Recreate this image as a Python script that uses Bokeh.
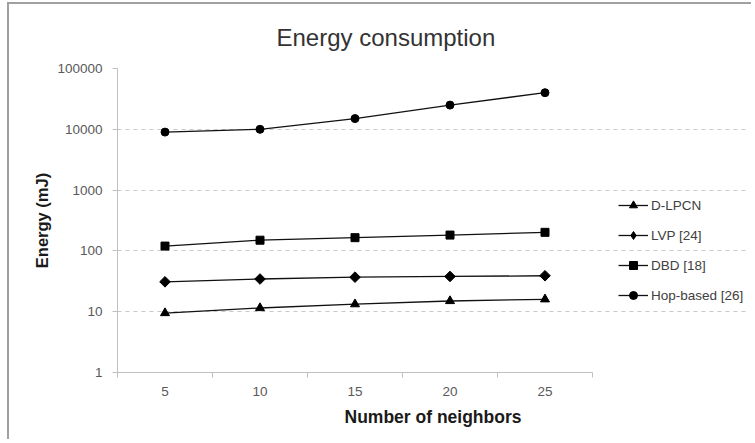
import math
from bokeh.plotting import figure
from bokeh.models import FixedTicker, Legend, LegendItem, Title, Range1d
from bokeh.embed import file_html
from bokeh.resources import INLINE

neighbors = [5, 10, 15, 20, 25]
dlpcn = [9.5, 11.5, 13.3, 15, 16]
lvp = [31, 34.5, 37, 38, 39]
dbd = [120, 150, 165, 182, 202]
hop = [9000, 10000, 15000, 25000, 40000]

series_names = ["D-LPCN", "LVP [24]", "DBD [18]", "Hop-based [26]"]
y_ticks = [1, 10, 100, 1000, 10000, 100000]
x_bounds = [2.5, 7.5, 12.5, 17.5, 22.5, 27.5]

W, H = 744, 437
MBL, MBR = 108, 5
frame_w = W - MBL - MBR
px_per_unit = 95 / 5.0
x_end = 2.5 + frame_w / px_per_unit

p = figure(width=W, height=H, y_axis_type="log", output_backend="svg",
           toolbar_location=None, x_range=Range1d(2.5, x_end),
           y_range=Range1d(1, 100000),
           min_border_left=MBL, min_border_right=MBR, min_border_top=64,
           min_border_bottom=69)
p.outline_line_color = None
p.background_fill_color = "white"
p.border_fill_color = "white"

font = "Liberation Sans"

t = Title(text="Energy consumption", align="left", offset=159,
          vertical_align="bottom",
          text_font=font, text_font_size="24px", text_font_style="normal",
          text_color="#333333", standoff=35)
p.title = t

lw = 1.3
col = "#111111"
renderers = []
for ys, marker, size, ang, lmarker, lsize in [
        (dlpcn, "triangle", 9, 0, "triangle", 7),
        (lvp, "square", 7.5, math.pi / 4, "diamond", 9),
        (dbd, "square", 8, 0, "square", 6.5),
        (hop, "circle", 8, 0, "circle", 7)]:
    l = p.line(neighbors, ys, line_color=col, line_width=lw)
    p.scatter(neighbors, ys, marker=marker, size=size, angle=ang,
              fill_color="black", line_color="black")
    # legend-only glyph placed outside the visible x range
    lg = p.scatter([1000], [ys[0]], marker=lmarker, size=lsize,
                   fill_color="black", line_color="black")
    renderers.append([l, lg])

items = [LegendItem(label=n, renderers=r) for n, r in zip(series_names, renderers)]
legend = Legend(items=items, location=(501, 67), orientation="vertical",
                padding=0, margin=0, spacing=10, glyph_width=30, glyph_height=20,
                label_height=20, label_standoff=3, label_text_font=font,
                label_text_font_size="13.5px", label_text_color="#404040",
                border_line_color=None, background_fill_alpha=0)
p.add_layout(legend, "center")

# axes
p.xaxis.bounds = (2.5, 27.5)
p.xaxis.ticker = FixedTicker(ticks=neighbors, minor_ticks=x_bounds)
p.xaxis.major_tick_line_color = None
p.xaxis.minor_tick_in = 0
p.xaxis.minor_tick_out = 5
p.xaxis.minor_tick_line_color = "#c0c0c0"
p.xaxis.axis_line_color = "#c0c0c0"
p.xaxis.major_label_text_font = font
p.xaxis.major_label_text_font_size = "13.5px"
p.xaxis.major_label_text_color = "#595959"
p.xaxis.major_label_standoff = 8
p.xaxis.axis_label = "Number of neighbors"
p.xaxis.axis_label_text_font = font
p.xaxis.axis_label_text_font_size = "17.5px"
p.xaxis.axis_label_text_font_style = "bold"
p.xaxis.axis_label_text_color = "#1a1a1a"
p.xaxis.axis_label_standoff = 8

p.yaxis.ticker = FixedTicker(ticks=y_ticks, minor_ticks=[])
p.yaxis.major_label_overrides = {v: str(v) for v in y_ticks}
p.yaxis.major_tick_in = 0
p.yaxis.major_tick_out = 5
p.yaxis.major_tick_line_color = "#c0c0c0"
p.yaxis.minor_tick_line_color = None
p.yaxis.axis_line_color = "#c0c0c0"
p.yaxis.major_label_text_font = font
p.yaxis.major_label_text_font_size = "13.5px"
p.yaxis.major_label_text_color = "#595959"
p.yaxis.major_label_standoff = 10
p.yaxis.axis_label = "Energy (mJ)"
p.yaxis.axis_label_text_font = font
p.yaxis.axis_label_text_font_size = "16.5px"
p.yaxis.axis_label_text_font_style = "bold"
p.yaxis.axis_label_text_color = "#1a1a1a"
p.yaxis.axis_label_standoff = 3

p.xgrid.grid_line_color = None
p.ygrid.ticker = FixedTicker(ticks=y_ticks[1:])
p.ygrid.bounds = (2.5, 27.5)
p.ygrid.grid_line_color = "#c8c8c8"
p.ygrid.grid_line_dash = "4 4"
p.ygrid.grid_line_width = 1

p.styles = {"margin-left": "7px", "margin-top": "2px",
            "border-left": "2px solid #a0a0a0", "border-top": "2px solid #a0a0a0"}

open("out.html", "w").write(file_html(p, INLINE))
